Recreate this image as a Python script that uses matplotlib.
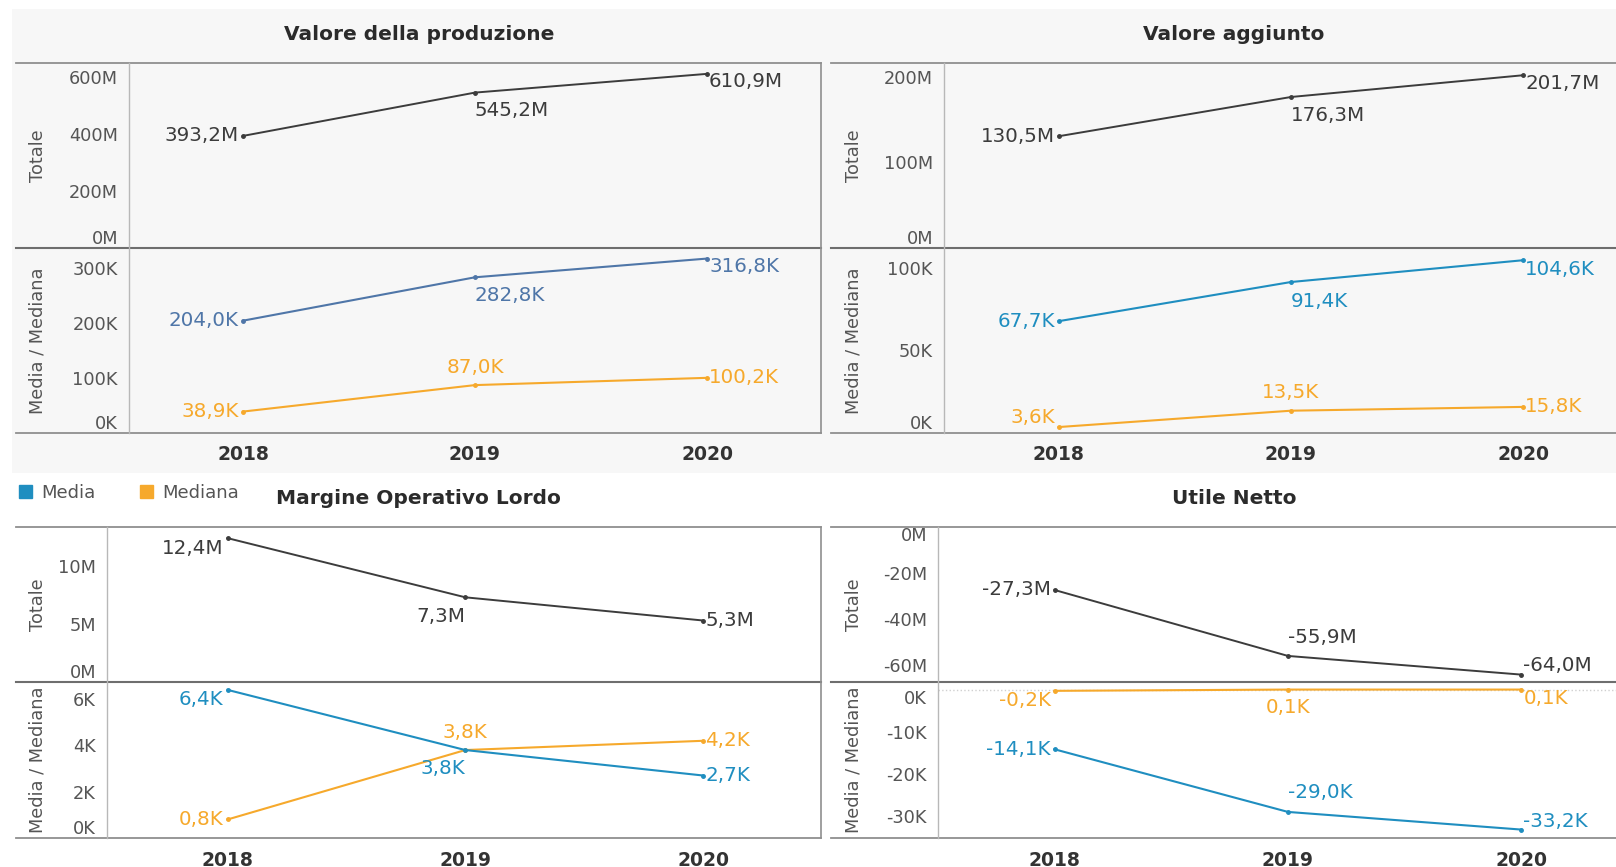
import matplotlib.pyplot as plt
from matplotlib.lines import Line2D
from matplotlib.patches import Rectangle, Patch

W, H = 1616, 867

years = ['2018', '2019', '2020']

# Valore della produzione
vp_totale = [393.2, 545.2, 610.9]    # M
vp_media = [204.0, 282.8, 316.8]     # K
vp_mediana = [38.9, 87.0, 100.2]     # K

# Valore aggiunto
va_totale = [130.5, 176.3, 201.7]
va_media = [67.7, 91.4, 104.6]
va_mediana = [3.6, 13.5, 15.8]

# Margine Operativo Lordo
mol_totale = [12.4, 7.3, 5.3]
mol_media = [6.4, 3.8, 2.7]
mol_mediana = [0.8, 3.8, 4.2]

# Utile Netto
un_totale = [-27.3, -55.9, -64.0]
un_media = [-14.1, -29.0, -33.2]
un_mediana = [-0.2, 0.1, 0.1]

BLACK = '#3c3c3c'
BLUE = '#1f8ec0'
STEEL = '#4f76a8'
ORANGE = '#f6a92c'
GRID = '#8f8f8f'
LIGHT = '#b8b8b8'
TICK = '#555555'

fig = plt.figure(figsize=(W / 100, H / 100), dpi=100)
fig.patch.set_facecolor('white')
fig.add_artist(Rectangle((12 / W, 1 - 473 / H), 1 - 12 / W, (473 - 9) / H,
                         transform=fig.transFigure, facecolor='#f7f7f7',
                         edgecolor='none', zorder=0))


def hline(x0, x1, y, color=GRID, lw=1.3):
    fig.add_artist(Line2D([x0 / W, x1 / W], [1 - y / H, 1 - y / H],
                          transform=fig.transFigure, color=color, lw=lw, zorder=5))


def vline(x, y0, y1, color=LIGHT, lw=1.0):
    fig.add_artist(Line2D([x / W, x / W], [1 - y0 / H, 1 - y1 / H],
                          transform=fig.transFigure, color=color, lw=lw, zorder=5))


def fmt(v, unit):
    return f'{v:.1f}'.replace('.', ',') + unit


def setup_y(ax, ticks, unit, ylim, height_px):
    ax.set_ylim(*ylim)
    ax.set_yticks(ticks)
    ax.set_yticklabels([f'{t:g}{unit}' for t in ticks])
    ax.tick_params(axis='y', length=0, pad=8, labelsize=12.8, labelcolor=TICK)
    lo, hi = ylim
    for t, lab in zip(ticks, ax.get_yticklabels()):
        d_lo = (t - lo) / (hi - lo) * height_px
        d_hi = (hi - t) / (hi - lo) * height_px
        if d_lo < 9:
            lab.set_va('bottom')
        elif d_hi < 9:
            lab.set_va('top')


def labels(ax, values, unit, color, place):
    for i, (v, (ha, va, dx, dy)) in enumerate(zip(values, place)):
        ax.annotate(fmt(v, unit), (i, v), xytext=(dx, dy), textcoords='offset pixels',
                    ha=ha, va=va, color=color, fontsize=14.3, zorder=6)


def panel(title, tx, geom, xlim, tot, tot_ticks, tot_lim, med, med_c, mdn,
          med_ticks, med_lim, place_tot, place_med, place_mdn, left_panel, zero_line=False):
    x0, x1, yt, ym, yb, line_x0, label_x = geom
    ax_t = fig.add_axes([x0 / W, 1 - ym / H, (x1 - x0) / W, (ym - yt) / H])
    ax_m = fig.add_axes([x0 / W, 1 - yb / H, (x1 - x0) / W, (yb - ym) / H])
    for ax in (ax_t, ax_m):
        ax.set_facecolor('none')
        ax.set_xlim(*xlim)
        for s in ax.spines.values():
            s.set_visible(False)
    ax_t.set_xticks([])
    ax_m.set_xticks(range(len(years)))
    ax_m.set_xticklabels(years, fontweight='bold', fontsize=13.5, color='#333333')
    ax_m.tick_params(axis='x', length=0, pad=9)

    setup_y(ax_t, tot_ticks, 'M', tot_lim, ym - yt)
    setup_y(ax_m, med_ticks, 'K', med_lim, yb - ym)

    if zero_line:
        ax_m.axhline(0, color='#d0d0d0', ls=':', lw=1, zorder=1)

    xs = range(len(years))
    ax_t.plot(xs, tot, color=BLACK, lw=1.4, marker='o', ms=2.5, zorder=3)
    ax_m.plot(xs, mdn, color=ORANGE, lw=1.5, marker='o', ms=2.5, zorder=3)
    ax_m.plot(xs, med, color=med_c, lw=1.5, marker='o', ms=2.5, zorder=4)

    labels(ax_t, tot, 'M', BLACK, place_tot)
    labels(ax_m, med, 'K', med_c, place_med)
    labels(ax_m, mdn, 'K', ORANGE, place_mdn)

    hline(line_x0, x1 if left_panel else W, yt)
    hline(line_x0, x1 if left_panel else W, ym, color='#6e6e6e', lw=1.5)
    hline(line_x0, x1 if left_panel else W, yb)
    vline(x0, yt, yb)
    if left_panel:
        vline(x1, yt, yb, color=GRID, lw=1.2)

    fig.text(tx / W, 1 - (yt - 28) / H, title, ha='center', va='center',
             fontsize=14.5, fontweight='bold', color='#2b2b2b')
    fig.text(label_x / W, 1 - (yt + ym) / 2 / H, 'Totale', rotation=90,
             ha='center', va='center', fontsize=12.8, color=TICK)
    fig.text(label_x / W, 1 - (ym + yb) / 2 / H, 'Media / Mediana', rotation=90,
             ha='center', va='center', fontsize=12.8, color=TICK)


L, C, R = 'left', 'center', 'right'

panel('Valore della produzione', 419, (129, 821, 63, 248, 433, 16, 38),
      (-0.491, 2.491),
      vp_totale, [0, 200, 400, 600], (0, 649),
      vp_media, STEEL, vp_mediana, [0, 100, 200, 300], (0, 336),
      [(R, C, -4, 0), (L, C, 0, -18), (L, C, 2, -8)],
      [(R, C, -4, 0), (L, C, 0, -18), (L, C, 2, -8)],
      [(R, C, -4, 0), (C, C, 0, 18), (L, C, 2, 0)], True)

panel('Valore aggiunto', 1234, (944, 1616, 63, 248, 433, 831, 854),
      (-0.494, 2.40),
      va_totale, [0, 100, 200], (0, 216),
      va_media, BLUE, va_mediana, [0, 50, 100], (0, 112),
      [(R, C, -4, 0), (L, C, 0, -18), (L, C, 2, -8)],
      [(R, C, -4, 0), (L, C, 0, -19), (L, C, 2, -9)],
      [(R, C, -4, 10), (C, C, 0, 18), (L, C, 2, 0)], False)

panel('Margine Operativo Lordo', 418, (107, 821, 527, 682, 838, 16, 38),
      (-0.507, 2.496),
      mol_totale, [0, 5, 10], (0, 13.36),
      mol_media, BLUE, mol_mediana, [0, 2, 4, 6], (0, 6.74),
      [(R, C, -4, -10), (R, C, 0, -19), (L, C, 2, 0)],
      [(R, C, -4, -10), (R, C, 0, -18), (L, C, 2, 0)],
      [(R, C, -4, 0), (C, C, 0, 18), (L, C, 2, 0)], True)

panel('Utile Netto', 1234, (938, 1616, 527, 682, 838, 831, 854),
      (-0.499, 2.405),
      un_totale, [-60, -40, -20, 0], (-67.2, 0),
      un_media, BLUE, un_mediana, [-30, -20, -10, 0], (-35.2, 1.9),
      [(R, C, -4, 0), (L, C, 0, 18), (L, C, 2, 9)],
      [(R, C, -4, 0), (L, C, 0, 19), (L, C, 2, 8)],
      [(R, C, -4, -10), (C, C, 0, -18), (L, C, 2, -9)], False, zero_line=True)

fig.legend(handles=[Patch(color=BLUE, label='Media'), Patch(color=ORANGE, label='Mediana')],
           loc='center left', bbox_to_anchor=(19 / W, 1 - 493 / H), ncol=2, frameon=False,
           fontsize=13, handlelength=0.72, handleheight=0.72, handletextpad=0.5,
           columnspacing=2.5, borderpad=0, borderaxespad=0, labelcolor=TICK)

fig.savefig('out.png', dpi=100)
